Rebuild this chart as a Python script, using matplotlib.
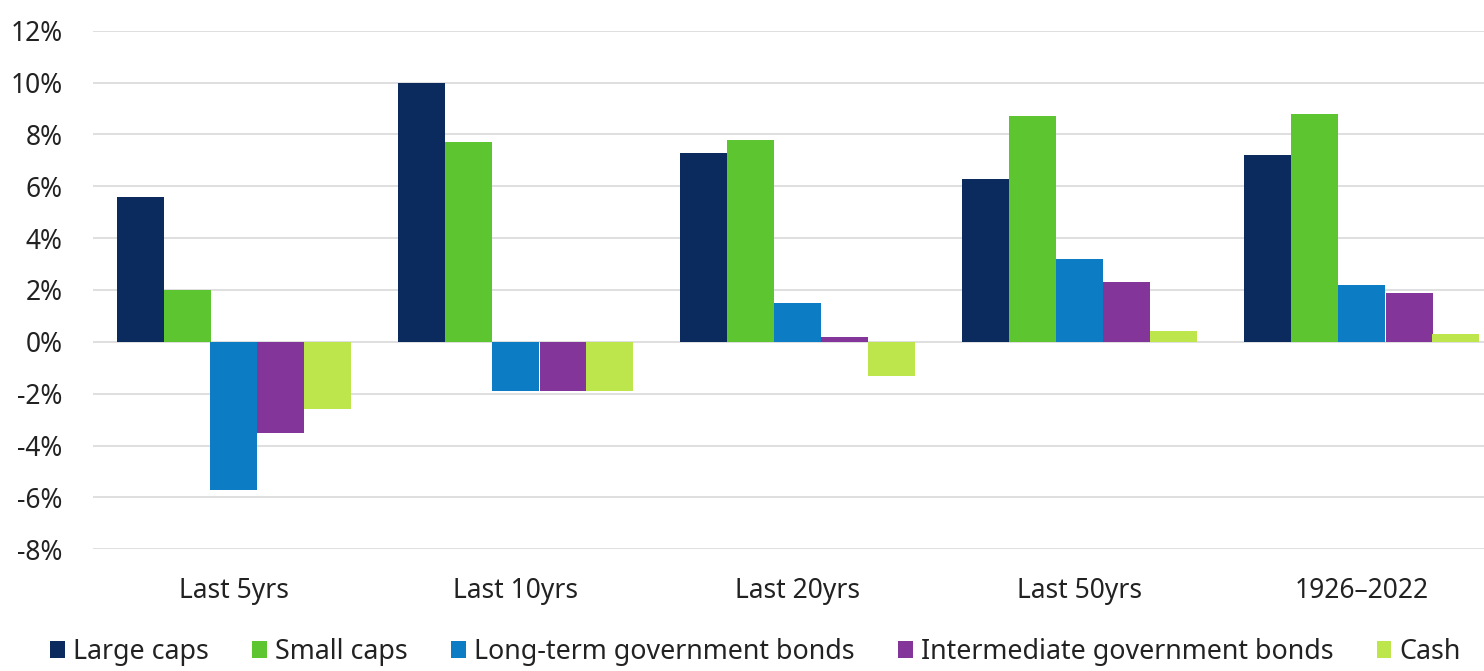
import numpy as np
import matplotlib
matplotlib.use("Agg")
import matplotlib.pyplot as plt
from matplotlib.patches import Patch
from matplotlib.ticker import FuncFormatter

plt.rcParams['font.family'] = ['Noto Sans', 'DejaVu Sans']

# Annualised real returns by asset class and period (%)
periods = ["Last 5yrs", "Last 10yrs", "Last 20yrs", "Last 50yrs", "1926\u20132022"]
large_caps = [5.6, 10.0, 7.3, 6.3, 7.2]
small_caps = [2.0, 7.7, 7.8, 8.7, 8.8]
long_govt = [-5.7, -1.9, 1.5, 3.2, 2.2]
inter_govt = [-3.5, -1.9, 0.2, 2.3, 1.9]
cash = [-2.6, -1.9, -1.3, 0.4, 0.3]

series_names = ["Large caps", "Small caps", "Long-term government bonds",
                "Intermediate government bonds", "Cash"]
series_values = [large_caps, small_caps, long_govt, inter_govt, cash]
colors = ["#0b2b5e", "#5cc530", "#0c7cc4", "#84359a", "#bde64c"]

fig = plt.figure(figsize=(14.84, 6.71), dpi=100)
# axes runs a little past the right edge of the figure
ax = fig.add_axes([93 / 1484, (671 - 549.3) / 671, 1410 / 1484, 518.6 / 671])

x = np.arange(len(periods))
bar_w = 1 / 6
for i, (vals, col) in enumerate(zip(series_values, colors)):
    offs = (i - 2) * bar_w
    ax.bar(x + offs, vals, width=bar_w, color=col, zorder=3, linewidth=0)

ax.set_xlim(-0.5, 4.5)
ax.set_ylim(-8, 12)
ax.set_yticks(np.arange(-8, 13, 2))
ax.yaxis.set_major_formatter(FuncFormatter(lambda v, p: f"{v:.0f}%"))
ax.set_xticks(x)
ax.set_xticklabels(periods)

ax.grid(axis='y', color='#d9d9d9', linewidth=1.2, zorder=0)
for s in ax.spines.values():
    s.set_visible(False)
ax.tick_params(axis='both', length=0, labelsize=19, colors='#222222')
ax.tick_params(axis='y', pad=22)
ax.tick_params(axis='x', pad=20)

handles = [Patch(facecolor=c, edgecolor='none') for c in colors]
fig.legend(handles, series_names, loc='center left', bbox_to_anchor=(50 / 1484, 1 - 652 / 671),
           ncol=5, frameon=False, fontsize=19.3, handlelength=0.55, handleheight=0.55,
           handletextpad=0.3, columnspacing=1.62, borderpad=0, borderaxespad=0,
           labelcolor='#222222')

fig.savefig("out.png", dpi=100, facecolor='white')
